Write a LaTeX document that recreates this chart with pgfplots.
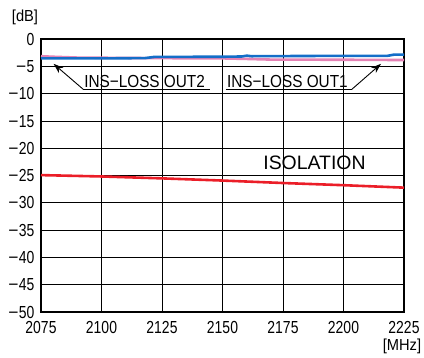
\documentclass[border=0pt]{standalone}
\usepackage{fontspec}
\setmainfont{Liberation Sans}
\newfontfamily\tickfont{Liberation Sans}[FakeStretch=0.8]
\newfontfamily\labfont{Liberation Sans}[FakeStretch=0.88]
\newfontfamily\unitfont{Liberation Sans}[FakeStretch=0.92]
\usepackage{pgfplots}
\pgfplotsset{compat=1.18}
\usetikzlibrary{arrows.meta}
\definecolor{cblue}{RGB}{20,110,200}
\definecolor{cpink}{RGB}{228,130,180}
\definecolor{cred}{RGB}{235,30,40}
\newcommand\mn{\scalebox{1.25}[1]{−}\kern0.5bp}
\begin{document}
\begin{tikzpicture}
\useasboundingbox (-41bp,-46bp) rectangle (383bp,312bp);
\begin{axis}[
  at={(0,0)}, anchor=south west,
  scale only axis, width=363bp, height=272.7bp,
  xmin=2075, xmax=2225, ymin=-50, ymax=0,
  xtick={2075,2100,2125,2150,2175,2200,2225},
  xticklabels={2075,2100,2125,2150,2175,2200,2225},
  ytick={-50,-45,-40,-35,-30,-25,-20,-15,-10,-5,0},
  yticklabels={\mn50,\mn45,\mn40,\mn35,\mn30,\mn25,\mn20,\mn15,\mn10,\mn5,0},
  grid=major,
  major grid style={black, line width=0.9bp},
  axis line style={line width=2.2bp},
  tick style={draw=none},
  ticklabel style={font=\tickfont\fontsize{17.5}{17.5}\selectfont},
  yticklabel style={xshift=-3bp},
  xticklabel style={yshift=-5.5bp},
  clip=false,
]
\addplot[cred, line width=2.6bp] coordinates {
(2075,-24.9) (2100,-25.15) (2125,-25.5) (2150,-25.9) (2175,-26.35) (2200,-26.75) (2225,-27.2)};
\addplot[cpink, line width=2.6bp] coordinates {
(2075,-3.1) (2080,-3.2) (2090,-3.35) (2120,-3.45) (2150,-3.5) (2160,-3.6) (2170,-3.72) (2200,-3.75) (2225,-3.8)};
\addplot[cblue, line width=2.6bp] coordinates {
(2075,-3.5) (2100,-3.5) (2118,-3.45) (2122,-3.22) (2150,-3.2) (2158,-3.15) (2160,-3.0) (2162,-3.1) (2190,-3.05) (2218,-3.05) (2221,-2.8) (2225,-2.8)};
\draw[line width=0.9bp] (axis cs:2144.8,-9.15) -- (axis cs:2092.4,-9.15);
\draw[line width=0.9bp, -{Stealth[length=10bp,width=7bp]}] (axis cs:2092.4,-9.15) -- (axis cs:2080.2,-4.5);
\draw[line width=0.9bp] (axis cs:2151.4,-9.15) -- (axis cs:2203.5,-9.15);
\draw[line width=0.9bp, -{Stealth[length=10bp,width=7bp]}] (axis cs:2203.5,-9.15) -- (axis cs:2215.5,-4.5);
\node[font=\labfont\fontsize{17.5}{17.5}\selectfont, anchor=base, inner sep=0pt] at (axis cs:2117.8,-8.75) {INS−LOSS OUT2};
\node[font=\labfont\fontsize{17.5}{17.5}\selectfont, anchor=base, inner sep=0pt] at (axis cs:2176.8,-8.75) {INS−LOSS OUT1};
\node[font=\fontsize{19.5}{19.5}\selectfont] at (axis cs:2188,-22.6) {ISOLATION};
\node[font=\unitfont\fontsize{16}{16}\selectfont] at ([shift={(-16bp,22bp)}]rel axis cs:0,1) {[dB]};
\node[font=\unitfont\fontsize{16}{16}\selectfont] at ([shift={(-2bp,-34bp)}]rel axis cs:1,0) {[MHz]};
\end{axis}
\end{tikzpicture}
\end{document}
